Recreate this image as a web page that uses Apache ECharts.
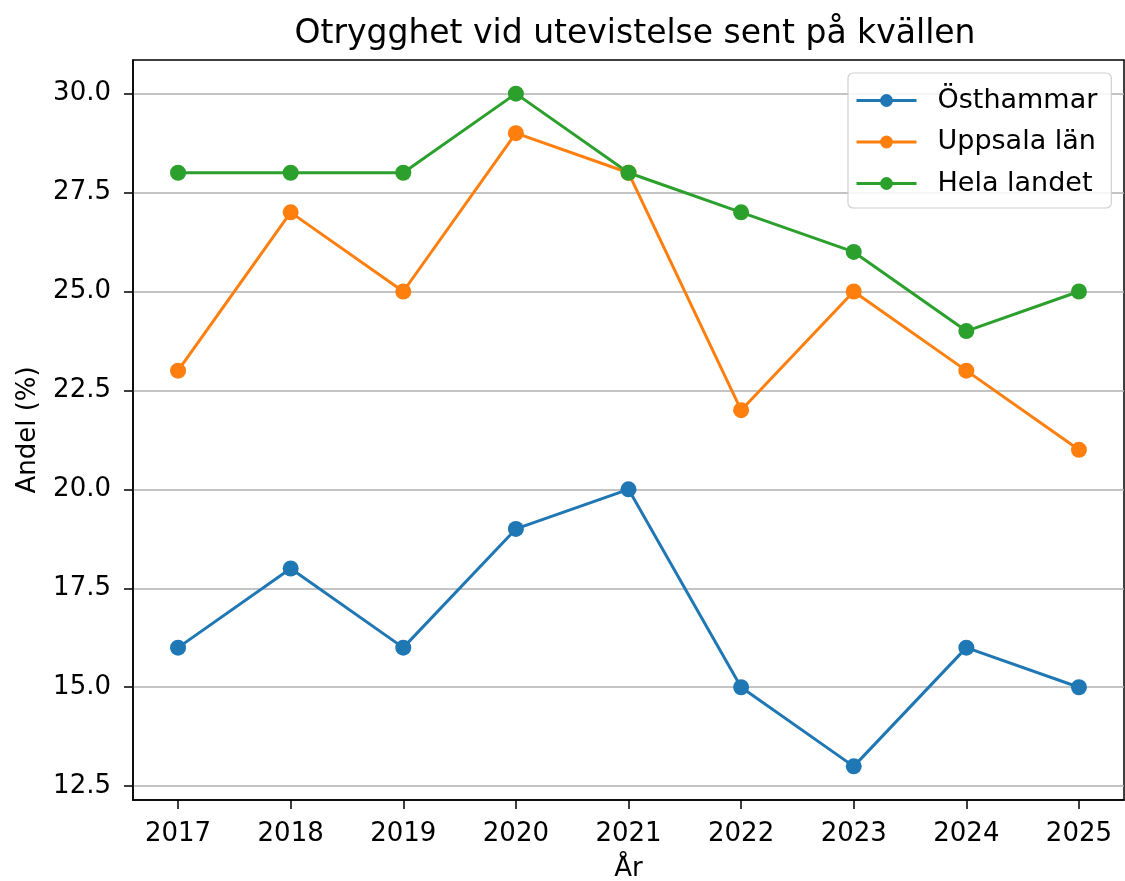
<!DOCTYPE html>
<html><head><meta charset="utf-8">
<script src="https://cdn.jsdelivr.net/npm/echarts@6/dist/echarts.min.js"></script>
<style>html,body{margin:0;padding:0;background:#fff}#c{width:1125px;height:881px}</style>
</head><body><div id="c"></div>
<script>
const years = [2017, 2018, 2019, 2020, 2021, 2022, 2023, 2024, 2025];
const osthammar = [16, 18, 16, 19, 20, 15, 13, 16, 15];
const uppsala = [23, 27, 25, 29, 28, 22, 25, 23, 21];
const helaLandet = [28, 28, 28, 30, 28, 27, 26, 24, 25];
const yTicks = [12.5, 15.0, 17.5, 20.0, 22.5, 25.0, 27.5, 30.0];
const seriesNames = ['Östhammar', 'Uppsala län', 'Hela landet'];
const colors = ['#1f77b4', '#ff7f0e', '#2ca02c'];

const font = 'DejaVu Sans';
const chart = echarts.init(document.getElementById('c'), null, {renderer: 'canvas'});
function mk(name, vals, color) {
  return {
    name, type: 'line', data: years.map((y, i) => [y, vals[i]]),
    color, symbol: 'circle', symbolSize: 16,
    lineStyle: {width: 3, color}, itemStyle: {color},
    emphasis: {disabled: true}, animation: false
  };
}
chart.setOption({
  animation: false,
  backgroundColor: '#fff',
  title: {text: 'Otrygghet vid utevistelse sent på kvällen', left: 630, top: 13, textAlign: 'center',
    textStyle: {fontFamily: font, fontSize: 33, fontWeight: 'normal', color: '#000'}},
  grid: {left: 133, top: 60, right: 1, bottom: 81, outerBoundsMode: 'none', containLabel: false,
    show: true, borderColor: '#000', borderWidth: 1.5, backgroundColor: 'transparent'},
  legend: {
    orient: 'vertical', left: 848, top: 73, padding: [14, 14, 11, 7],
    itemWidth: 60, itemHeight: 16, itemGap: 14.5,
    lineStyle: {width: 3},
    backgroundColor: 'rgba(255,255,255,0.85)', borderColor: '#d0d0d0', borderWidth: 1.2, borderRadius: 5,
    textStyle: {fontFamily: font, fontSize: 27, color: '#000', padding: [0, 0, 0, 16]},
    data: seriesNames
  },
  xAxis: {
    type: 'value', min: 2016.6, max: 2025.4, name: 'År', nameLocation: 'middle', nameGap: 56,
    nameTextStyle: {fontFamily: font, fontSize: 26, color: '#000'},
    axisLine: {show: true, lineStyle: {color: '#000', width: 1.5}},
    axisTick: {show: true, length: 9, lineStyle: {color: '#000', width: 1.5}, customValues: years},
    axisLabel: {customValues: years, fontFamily: font, fontSize: 26, color: '#000', margin: 21, formatter: v => String(v)},
    splitLine: {show: false}
  },
  yAxis: {
    type: 'value', min: 12.15, max: 30.85, name: 'Andel (%)', nameLocation: 'middle', nameGap: 92, nameRotate: 90,
    nameTextStyle: {fontFamily: font, fontSize: 26, color: '#000'},
    axisLine: {show: true, lineStyle: {color: '#000', width: 1.5}},
    axisTick: {show: true, length: 9, lineStyle: {color: '#000', width: 1.5}, customValues: yTicks},
    axisLabel: {customValues: yTicks, fontFamily: font, fontSize: 26, color: '#000', margin: 22, formatter: v => v.toFixed(1)},
    splitLine: {show: true, lineStyle: {color: '#b0b0b0', width: 1.5}}
  },
  series: [mk(seriesNames[0], osthammar, colors[0]), mk(seriesNames[1], uppsala, colors[1]), mk(seriesNames[2], helaLandet, colors[2])]
});
</script></body></html>
